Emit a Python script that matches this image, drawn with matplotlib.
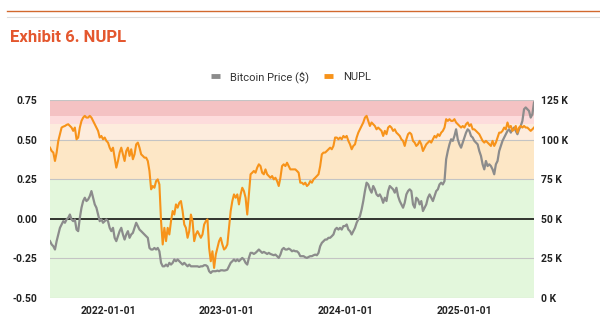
import matplotlib
matplotlib.use('Agg')
import matplotlib.pyplot as plt
import matplotlib.dates as mdates
from matplotlib.lines import Line2D
import numpy as np
import pandas as pd

plt.rcParams['font.family'] = ['Roboto', 'DejaVu Sans']

# NUPL readings, roughly every 5 days from 2021-07-05 to 2025-08-04
nupl = [
    0.449, 0.428, 0.418, 0.365, 0.418, 0.492, 0.534, 0.576, 0.582, 0.586,
    0.593, 0.597, 0.586, 0.576, 0.555, 0.576, 0.502, 0.513, 0.576, 0.618,
    0.639, 0.650, 0.639, 0.639, 0.650, 0.639, 0.618, 0.597, 0.576, 0.555,
    0.513, 0.523, 0.502, 0.513, 0.492, 0.481, 0.449, 0.428, 0.449, 0.386,
    0.323, 0.365, 0.418, 0.449, 0.407, 0.365, 0.428, 0.449, 0.397, 0.439,
    0.376, 0.407, 0.470, 0.481, 0.449, 0.407, 0.397, 0.386, 0.386, 0.365,
    0.302, 0.186, 0.207, 0.196, 0.238, 0.249, 0.217, -0.015, -0.162, -0.057,
    -0.141, -0.057, -0.099, -0.015, 0.049,
    0.027, 0.091, 0.070, 0.101, 0.112, 0.049, -0.036, -0.057, -0.120, -0.078,
    0.027, -0.015, -0.141, -0.099, -0.078, -0.099, -0.120, -0.099, -0.036, -0.015,
    -0.004, -0.184, -0.268, -0.205, -0.310, -0.226, -0.184, -0.141, -0.120, -0.162,
    -0.194, -0.184, -0.162, -0.057, 0.049, 0.112, 0.154, 0.133, 0.154, 0.091,
    0.154, 0.196, 0.175, 0.133, 0.027, 0.154, 0.281, 0.291, 0.302, 0.291,
    0.323, 0.344, 0.333, 0.291, 0.281, 0.312, 0.281, 0.270, 0.259, 0.270,
    0.249, 0.259, 0.238, 0.207, 0.259, 0.333, 0.344, 0.333, 0.354, 0.333,
    0.312, 0.312,
    0.312, 0.312, 0.302, 0.291, 0.228, 0.228, 0.217, 0.228, 0.207, 0.217,
    0.238, 0.228, 0.249, 0.259, 0.270, 0.281, 0.333, 0.407, 0.418, 0.418,
    0.428, 0.439, 0.449, 0.439, 0.460, 0.513, 0.513, 0.502, 0.513, 0.502,
    0.523, 0.513, 0.523, 0.492, 0.470, 0.439, 0.460, 0.470, 0.513, 0.544,
    0.565, 0.586, 0.608, 0.639, 0.650, 0.618, 0.586, 0.608, 0.597, 0.586,
    0.565, 0.576, 0.565, 0.555, 0.523, 0.555, 0.534, 0.576, 0.586, 0.576,
    0.555, 0.565, 0.544, 0.534, 0.523, 0.502, 0.492, 0.460, 0.502, 0.534,
    0.544, 0.534,
    0.492, 0.481, 0.460, 0.470, 0.492, 0.470, 0.428, 0.449, 0.470, 0.481,
    0.492, 0.481, 0.502, 0.523, 0.513, 0.534, 0.523, 0.544, 0.555, 0.576,
    0.629, 0.618, 0.629, 0.618, 0.618, 0.629, 0.608, 0.597, 0.586, 0.576,
    0.586, 0.576, 0.597, 0.608, 0.586, 0.597, 0.565, 0.565, 0.555, 0.544,
    0.534, 0.513, 0.492, 0.481, 0.492, 0.481, 0.470, 0.460, 0.492, 0.460,
    0.481, 0.513, 0.544, 0.544, 0.555, 0.576, 0.565, 0.608, 0.576, 0.586,
    0.555, 0.565, 0.586, 0.544, 0.576, 0.586, 0.576, 0.586, 0.576, 0.576,
    0.565, 0.555, 0.565, 0.576,
]

# Bitcoin price in thousands of dollars, same dates
price_k = [
    35.9, 33.8, 32.7, 30.6, 35.9, 40.1, 44.3, 46.4, 48.5, 47.5,
    49.6, 50.6, 52.7, 49.6, 48.5, 49.6, 43.2, 42.2, 50.6, 57.0,
    61.2, 63.3, 61.2, 62.2, 64.3, 67.5, 63.3, 59.1, 57.0, 52.7,
    48.5, 49.6, 47.5, 48.5, 49.6, 48.5, 44.3, 42.2, 44.3, 38.0,
    35.9, 39.0, 42.2, 44.3, 40.1, 36.9, 40.1, 42.2, 38.0, 40.1,
    41.1, 44.3, 47.5, 45.4, 43.2, 42.2, 41.1, 40.1, 39.0, 38.0,
    31.6, 30.6, 30.6, 31.6, 30.6, 31.6, 29.5, 22.2, 20.0, 20.0,
    21.1, 20.0, 22.2, 21.1, 22.2,
    24.3, 23.2, 24.3, 23.2, 22.2, 21.1, 22.2, 21.1, 20.0, 21.1,
    20.0, 20.0, 20.0, 20.0, 20.0, 19.6, 20.0, 20.0, 20.7, 20.7,
    20.0, 16.9, 15.8, 16.9, 16.9, 16.9, 17.3, 16.9, 17.5, 17.5,
    17.3, 17.5, 17.9, 20.0, 22.2, 23.2, 24.3, 23.2, 24.3, 23.2,
    24.3, 25.3, 24.3, 22.2, 21.1, 25.3, 28.5, 28.5, 27.8, 28.5,
    29.5, 30.6, 29.5, 28.5, 29.1, 28.5, 27.8, 28.5, 27.8, 27.4,
    27.0, 27.4, 26.4, 25.3, 27.4, 30.6, 31.6, 30.6, 30.6, 31.2,
    30.6, 29.5,
    30.0, 29.5, 29.5, 28.5, 26.4, 26.4, 26.4, 25.7, 25.3, 25.9,
    26.4, 26.4, 27.0, 27.4, 27.0, 28.5, 32.7, 34.8, 35.9, 36.9,
    36.9, 38.0, 38.0, 39.0, 40.1, 43.2, 44.3, 43.2, 44.3, 43.2,
    45.4, 45.4, 46.4, 43.2, 42.2, 40.1, 42.2, 44.3, 47.5, 49.6,
    51.7, 55.9, 61.2, 67.5, 72.8, 71.7, 68.6, 66.5, 70.7, 68.6,
    65.4, 64.3, 65.4, 63.3, 60.1, 63.3, 61.2, 67.5, 70.7, 69.6,
    68.6, 66.5, 69.6, 64.3, 61.2, 59.1, 57.0, 60.1, 65.4, 67.5,
    68.6, 67.5,
    59.1, 57.0, 63.3, 62.2, 59.1, 61.2, 54.9, 57.0, 59.1, 63.3,
    65.4, 63.3, 61.2, 64.3, 67.5, 68.6, 71.7, 72.8, 71.7, 73.8,
    87.6, 92.8, 97.0, 100.2, 99.2, 102.3, 106.5, 100.2, 97.0, 94.9,
    98.1, 101.3, 104.4, 106.5, 105.5, 102.3, 101.3, 99.2, 98.1, 97.0,
    92.8, 89.7, 84.4, 81.2, 86.5, 83.3, 84.4, 83.3, 81.2, 78.1,
    84.4, 86.5, 92.8, 96.0, 99.2, 101.3, 103.4, 105.5, 106.5, 104.4,
    106.5, 107.6, 105.5, 103.4, 106.5, 108.6, 111.8, 119.2, 120.3, 119.2,
    118.1, 113.9, 116.0, 123.4,
]

dates = pd.date_range('2021-07-05', '2025-08-04', periods=len(nupl))

# NUPL zones (low, high, colour)
zones = [
    (-0.50, 0.25, '#e3f7dc'),
    (0.25, 0.50, '#fde7c6'),
    (0.50, 0.60, '#fdecdd'),
    (0.60, 0.65, '#fddcdc'),
    (0.65, 0.75, '#f4c2c3'),
]
left_ticks = [-0.5, -0.25, 0.0, 0.25, 0.5, 0.75]
right_ticks = [0, 25, 50, 75, 100, 125]
year_ticks = ['2022-01-01', '2023-01-01', '2024-01-01', '2025-01-01']

ORANGE = '#f7931a'
GREY = '#8c8c8c'
TXT = '#222222'

fig = plt.figure(figsize=(6, 3.35), dpi=100)
ax = fig.add_axes([50 / 600, 1 - 298 / 335, 484 / 600, 198 / 335])

for lo, hi, c in zones:
    ax.axhspan(lo, hi, color=c, lw=0, zorder=0)
for t in left_ticks:
    if t == 0:
        ax.axhline(t, color='black', lw=1.1, zorder=1)
    else:
        ax.axhline(t, color='#c4c4c4', lw=0.8, zorder=1)

ax.set_xlim(dates[0], dates[-1])
ax.set_ylim(-0.5, 0.75)
ax.set_yticks(left_ticks)
ax.set_yticklabels(['%.2f' % t for t in left_ticks])
ax.set_xticks(pd.to_datetime(year_ticks))
ax.xaxis.set_major_formatter(mdates.DateFormatter('%Y-%m-%d'))

ax2 = ax.twinx()
ax2.set_ylim(0, 125)
ax2.set_yticks(right_ticks)
ax2.set_yticklabels(['%d K' % t for t in right_ticks])
ax2.plot(dates, price_k, color=GREY, lw=1.6, zorder=2)
# NUPL drawn over the price line, in NUPL units
ax2.plot(dates, nupl, color=ORANGE, lw=1.5, zorder=3, transform=ax.transData)
ax2.set_ylim(0, 125)
ax2.set_xlim(dates[0], dates[-1])

for a in (ax, ax2):
    for s in a.spines.values():
        s.set_visible(False)
    a.tick_params(length=0, labelsize=7.5, labelcolor=TXT)
    for lab in a.get_xticklabels() + a.get_yticklabels():
        lab.set_fontweight('bold')
ax.tick_params(axis='y', pad=9)
ax.tick_params(axis='x', pad=6)
ax2.tick_params(axis='y', pad=5)

handles = [Line2D([], [], color=GREY, lw=3.5, solid_capstyle='butt'),
           Line2D([], [], color=ORANGE, lw=3.5, solid_capstyle='butt')]
fig.legend(handles, ['Bitcoin Price ($)', 'NUPL'], loc='center',
           bbox_to_anchor=(0.485, 1 - 77 / 335), ncol=2, frameon=False,
           fontsize=8, handlelength=0.8, handletextpad=0.9, columnspacing=1.4,
           labelcolor='#333333')

fig.text(0.017, 1 - 37 / 335, 'Exhibit 6. NUPL', fontsize=12,
         fontweight='bold', color='#e4572e', va='center', ha='left')
fig.add_artist(Line2D([0.012, 1.0], [1 - 11 / 335] * 2, color='#d2692e', lw=1.0))
fig.add_artist(Line2D([0.012, 1.0], [1 - 17 / 335] * 2, color='#dddddd', lw=0.8))

fig.savefig('out.png', dpi=100)
